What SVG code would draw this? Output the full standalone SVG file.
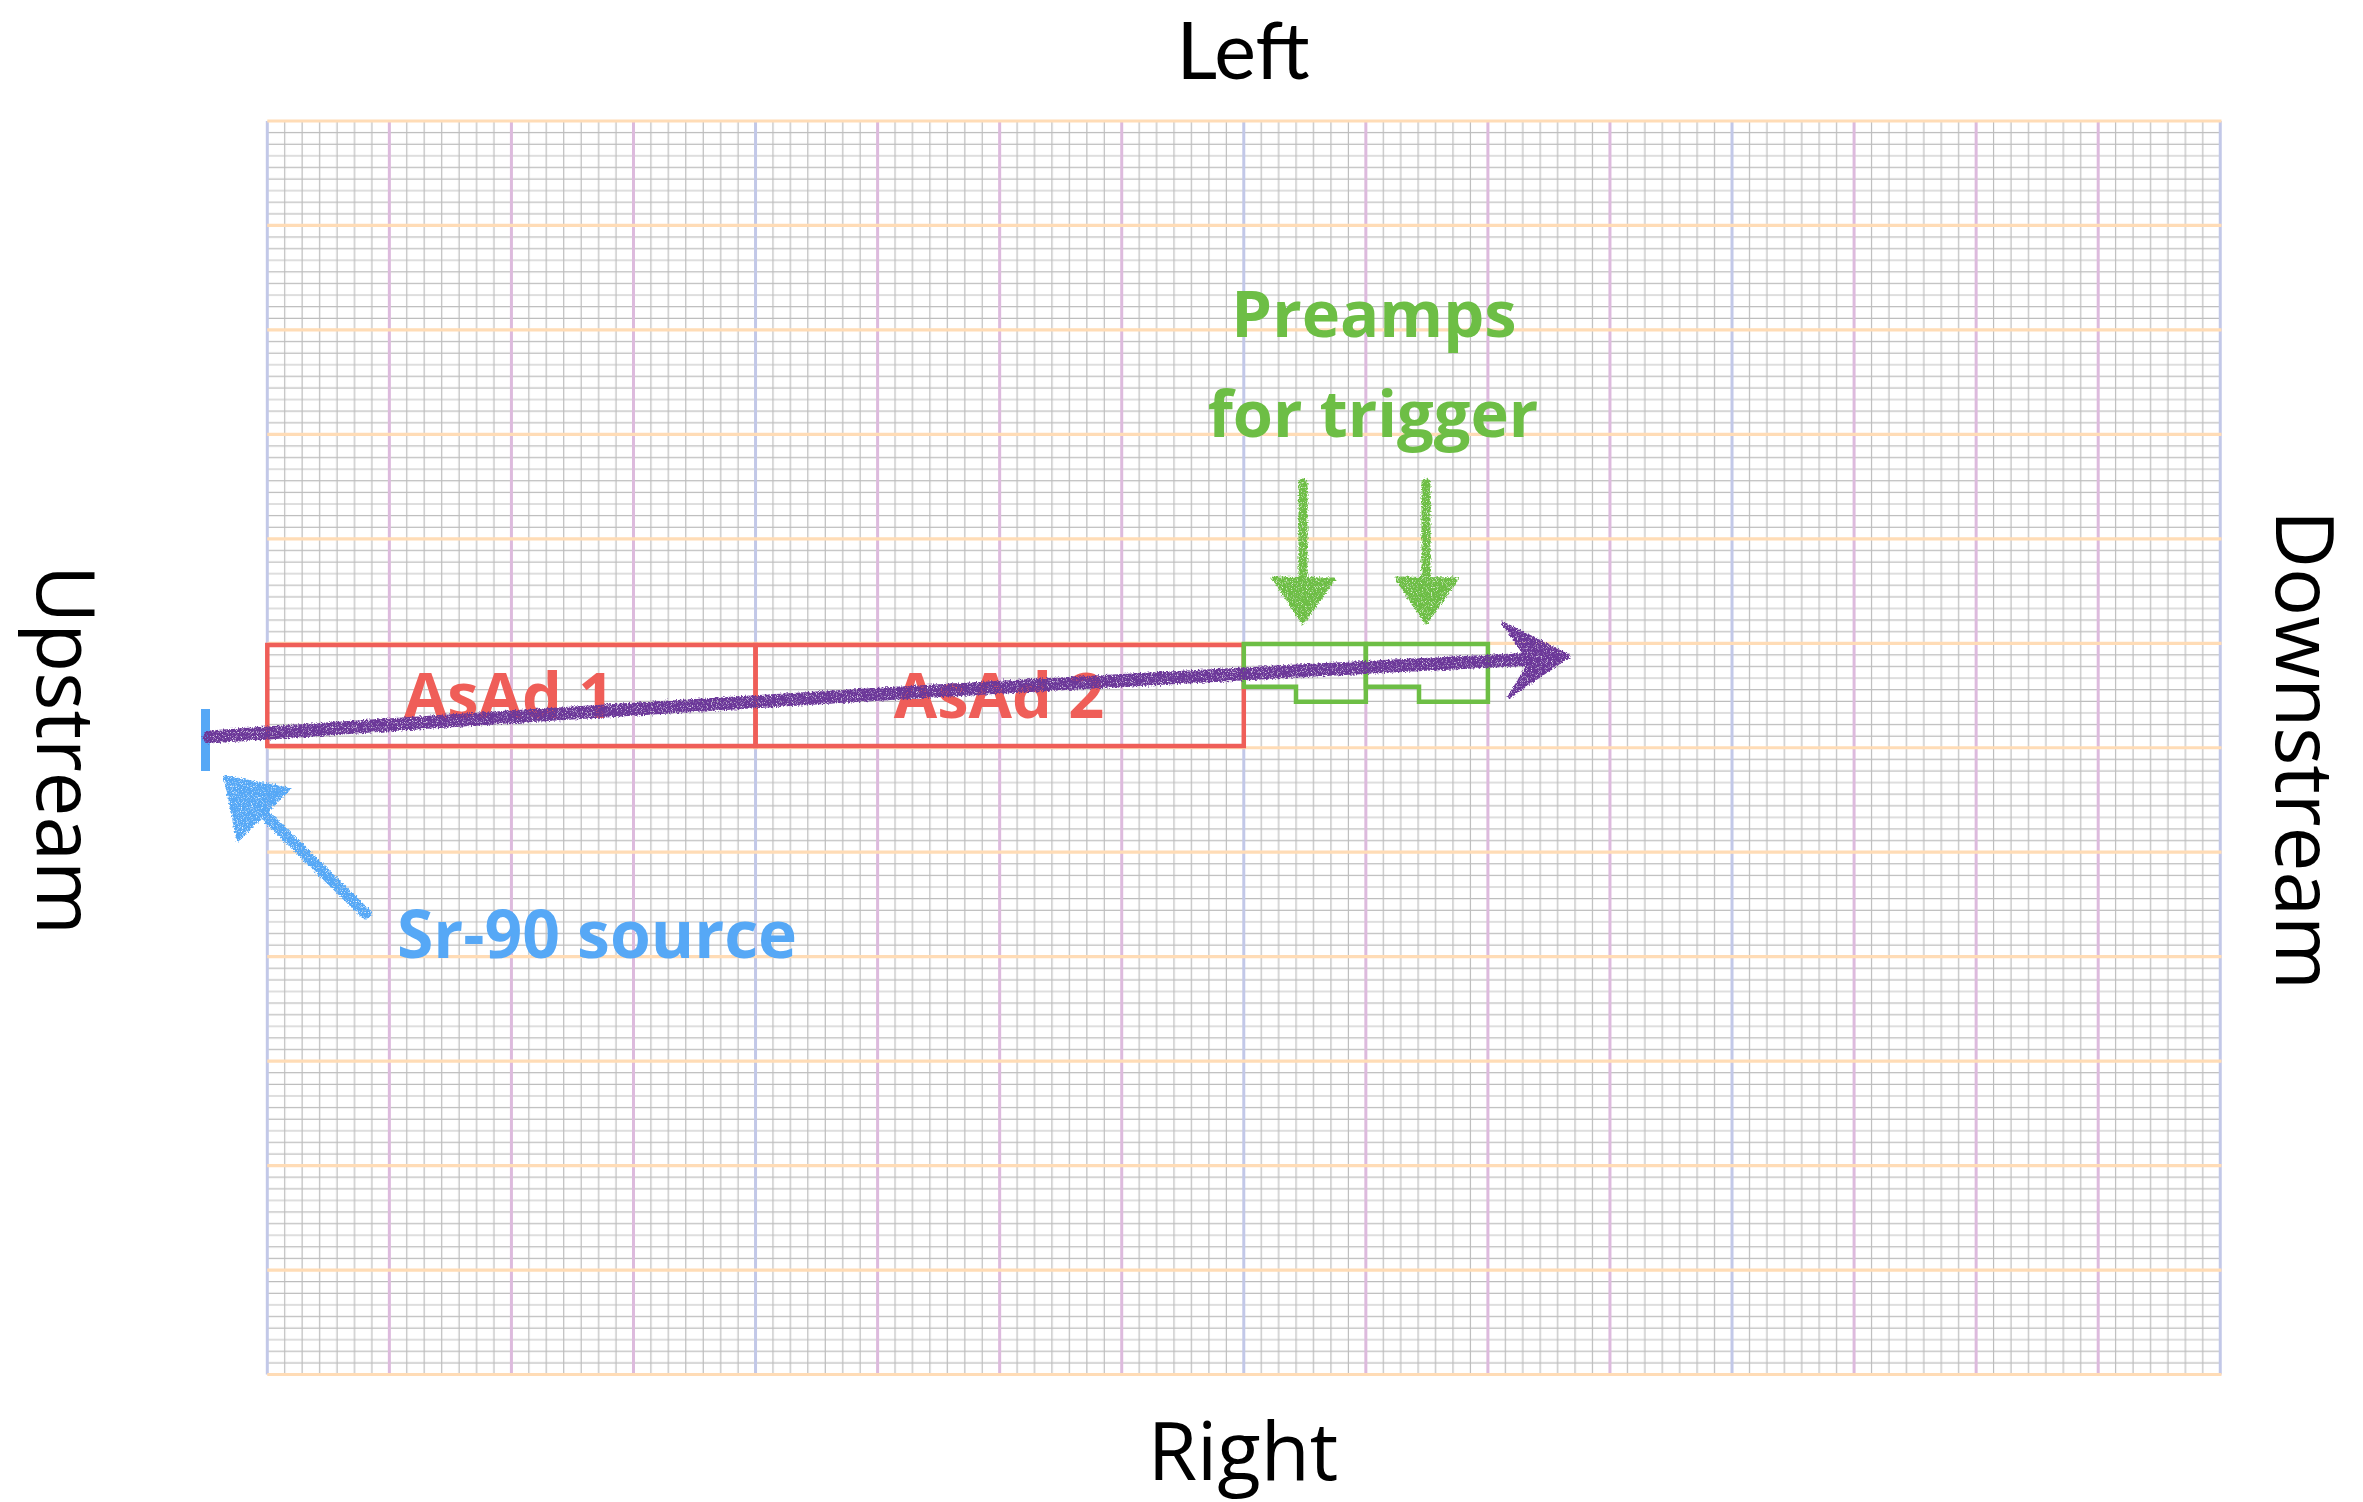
<svg xmlns="http://www.w3.org/2000/svg" width="2363" height="1502" viewBox="0 0 2363 1502">
<style>
.minor{stroke:#bdbdbd;stroke-width:1.2;fill:none}
.vp{stroke:#ddbadd;stroke-width:3}
.vb{stroke:#c2c8e8;stroke-width:3}
.ho{stroke:#ffdcb6;stroke-width:3.2}
.asad{fill:none;stroke:#ef5e58;stroke-width:4.5}
.pre{fill:none;stroke:#6dbe45;stroke-width:4.5}
.lbl{font-family:"Open Sans","Noto Sans",sans-serif;font-size:80px;fill:#000;text-anchor:middle}
.top{font-family:Lato,"Open Sans",sans-serif;font-size:79px;fill:#000;text-anchor:middle}
.bold{font-family:"Open Sans","Noto Sans",sans-serif;font-weight:700;text-anchor:middle}
</style>
<defs>
<pattern id="minorGrid" patternUnits="userSpaceOnUse" x="267.3" y="121" width="122.06" height="104.46">
<path class="minor" d="M17.44,0V104.46M34.87,0V104.46M52.31,0V104.46M69.75,0V104.46M87.19,0V104.46M104.62,0V104.46M0,11.61H122.06M0,23.21H122.06M0,34.82H122.06M0,46.43H122.06M0,58.03H122.06M0,69.64H122.06M0,81.25H122.06M0,92.85H122.06"/>
</pattern>
<filter id="crayon" x="-10%" y="-30%" width="120%" height="160%">
<feTurbulence type="fractalNoise" baseFrequency="0.6" numOctaves="2" seed="3" result="n"/>
<feDisplacementMap in="SourceGraphic" in2="n" scale="5" xChannelSelector="R" yChannelSelector="G" result="d"/>
<feTurbulence type="fractalNoise" baseFrequency="1.2" numOctaves="1" seed="9" result="n2"/>
<feColorMatrix in="n2" type="matrix" values="0 0 0 0 0  0 0 0 0 0  0 0 0 0 0  0 0 0 -4 3.2" result="mask"/>
<feComposite in="d" in2="mask" operator="in"/>
</filter>
</defs>

<g id="grid">
<rect x="267.3" y="121" width="1952.96" height="1253.52" fill="#fff"/>
<rect x="267.3" y="121" width="1952.96" height="1253.52" fill="url(#minorGrid)"/>
<g class="vb">
<line x1="267.3" y1="121" x2="267.3" y2="1374.5"/>
<line x1="755.54" y1="121" x2="755.54" y2="1374.5"/>
<line x1="1243.78" y1="121" x2="1243.78" y2="1374.5"/>
<line x1="1732.02" y1="121" x2="1732.02" y2="1374.5"/>
<line x1="2220.26" y1="121" x2="2220.26" y2="1374.5"/>
</g>
<g class="vp">
<line x1="389.36" y1="121" x2="389.36" y2="1374.5"/>
<line x1="511.42" y1="121" x2="511.42" y2="1374.5"/>
<line x1="633.48" y1="121" x2="633.48" y2="1374.5"/>
<line x1="877.6" y1="121" x2="877.6" y2="1374.5"/>
<line x1="999.66" y1="121" x2="999.66" y2="1374.5"/>
<line x1="1121.72" y1="121" x2="1121.72" y2="1374.5"/>
<line x1="1365.84" y1="121" x2="1365.84" y2="1374.5"/>
<line x1="1487.9" y1="121" x2="1487.9" y2="1374.5"/>
<line x1="1609.96" y1="121" x2="1609.96" y2="1374.5"/>
<line x1="1854.08" y1="121" x2="1854.08" y2="1374.5"/>
<line x1="1976.14" y1="121" x2="1976.14" y2="1374.5"/>
<line x1="2098.2" y1="121" x2="2098.2" y2="1374.5"/>
</g>
<g class="ho">
<line x1="267.3" y1="121" x2="2221.5" y2="121"/>
<line x1="267.3" y1="225.46" x2="2221.5" y2="225.46"/>
<line x1="267.3" y1="329.92" x2="2221.5" y2="329.92"/>
<line x1="267.3" y1="434.38" x2="2221.5" y2="434.38"/>
<line x1="267.3" y1="538.84" x2="2221.5" y2="538.84"/>
<line x1="267.3" y1="643.3" x2="2221.5" y2="643.3"/>
<line x1="267.3" y1="747.76" x2="2221.5" y2="747.76"/>
<line x1="267.3" y1="852.22" x2="2221.5" y2="852.22"/>
<line x1="267.3" y1="956.68" x2="2221.5" y2="956.68"/>
<line x1="267.3" y1="1061.14" x2="2221.5" y2="1061.14"/>
<line x1="267.3" y1="1165.6" x2="2221.5" y2="1165.6"/>
<line x1="267.3" y1="1270.06" x2="2221.5" y2="1270.06"/>
<line x1="267.3" y1="1374.52" x2="2221.5" y2="1374.52"/>
</g>
</g>

<g id="side-labels">
<text class="top" x="1243" y="79">Left</text>
<text class="lbl" x="1243" y="1480">Right</text>
<text class="lbl" transform="translate(37,750) rotate(90)">Upstream</text>
<text class="lbl" transform="translate(2276,750) rotate(90)">Downstream</text>
</g>

<g id="asad1">
<rect class="asad" x="267.3" y="645" width="488.24" height="101"/>
<text class="bold" x="509" y="718" font-size="63" fill="#ef5e58">AsAd 1</text>
</g>
<g id="asad2">
<rect class="asad" x="755.54" y="645" width="488.24" height="101"/>
<text class="bold" x="999" y="718" font-size="63" fill="#ef5e58">AsAd 2</text>
</g>
<g id="preamp1">
<path class="pre" d="M1243.78,644H1365.84V701.7H1296V686.7H1243.78Z"/>
</g>
<g id="preamp2">
<path class="pre" d="M1365.84,644H1487.9V701.7H1419V686.7H1365.84Z"/>
</g>
<g id="preamps-label">
<text class="bold" x="1374" y="337" font-size="65" fill="#6dbe45">Preamps</text>
<text class="bold" x="1373" y="437" font-size="65" fill="#6dbe45">for trigger</text>
</g>
<g id="source">
<rect x="201" y="709" width="9" height="62" fill="#56a8f6"/>
<text class="bold" x="597" y="958" font-size="66" fill="#56a8f6">Sr-90 source</text>
</g>

<g id="connectors">
<g filter="url(#crayon)" fill="#6c3799" stroke="#6c3799">
<path d="M209,737 Q877,691 1535,659" fill="none" stroke-width="13" stroke-linecap="round"/>
<path d="M1503,623 L1569,656 L1509,697 L1530,662 Z" stroke-width="3" stroke-linejoin="round"/>
</g>
<g filter="url(#crayon)" fill="#56a8f6" stroke="#56a8f6">
<path d="M366,914 L258,808" fill="none" stroke-width="11" stroke-linecap="round"/>
<path d="M225,777 L289,789 L238,840 Z" stroke-width="3" stroke-linejoin="round"/>
</g>
<g filter="url(#crayon)" fill="#6dbe45" stroke="#6dbe45">
<path d="M1303,483 V590" fill="none" stroke-width="9" stroke-linecap="round"/>
<path d="M1273,578 L1334,579 L1303,623 Z" stroke-width="3" stroke-linejoin="round"/>
<path d="M1426,483 V590" fill="none" stroke-width="9" stroke-linecap="round"/>
<path d="M1396,578 L1457,579 L1426,623 Z" stroke-width="3" stroke-linejoin="round"/>
</g>
</g>
</svg>
